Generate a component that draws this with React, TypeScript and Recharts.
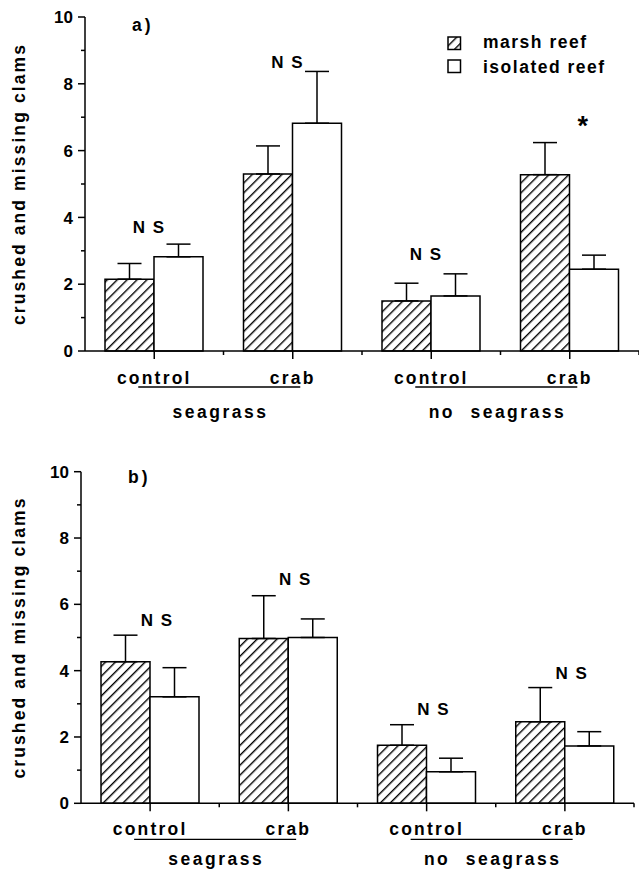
import React from 'react';
import { BarChart, Bar, XAxis, YAxis, ErrorBar, ReferenceDot } from 'recharts';

// ---------- data ----------
const treatments = ['control', 'crab', 'control', 'crab'];
const groupKeys = ['seagrass', 'seagrass', 'noseagrass', 'noseagrass'];
const groupNames = ['seagrass', 'no seagrass'];
const yTicks = [0, 1, 2, 3, 4, 5, 6, 7, 8, 9, 10];

// panel a
const marshA = [2.15, 5.3, 1.5, 5.28];
const marshErrA = [0.47, 0.84, 0.53, 0.96];
const isolatedA = [2.82, 6.82, 1.65, 2.45];
const isolatedErrA = [0.38, 1.55, 0.66, 0.42];
const sigA = ['N S', 'N S', 'N S', '*'];
const sigLevelA = [3.71, 8.65, 2.9, 6.92];

// panel b
const marshB = [4.27, 4.97, 1.75, 2.46];
const marshErrB = [0.8, 1.29, 0.62, 1.03];
const isolatedB = [3.21, 5.0, 0.95, 1.73];
const isolatedErrB = [0.88, 0.56, 0.41, 0.43];
const sigB = ['N S', 'N S', 'N S', 'N S'];
const sigLevelB = [5.53, 6.76, 2.84, 3.93];

const yLabel = 'crushed and missing clams';
const legendItems = ['marsh reef', 'isolated reef'];

const buildData = (m: number[], me: number[], iso: number[], ie: number[]) =>
  treatments.map((t, i) => ({
    key: `${groupKeys[i]}-${t}`,
    marsh: m[i],
    marshErr: [0, me[i]],
    isolated: iso[i],
    isolatedErr: [0, ie[i]],
  }));

const dataA = buildData(marshA, marshErrA, isolatedA, isolatedErrA);
const dataB = buildData(marshB, marshErrB, isolatedB, isolatedErrB);

const FONT = '"Liberation Sans", Arial, Helvetica, sans-serif';

const textStyle: React.CSSProperties = {
  fontFamily: FONT,
  fontWeight: 700,
  fill: '#000',
};

type Cfg = {
  height: number;
  top: number;
  right: number;
  yw: number;
  xh: number;
  labelDy: number;
  lineDy: number;
  groupDy: number;
  sigDx: number;
  starDx: number;
};

const makeXTick = (cfg: Cfg) => (props: any) => {
  const { x, y, payload, index } = props;
  const off = payload && payload.offset ? payload.offset : 69;
  return (
    <g>
      <line x1={x} y1={y} x2={x} y2={y + 8} stroke="#000" strokeWidth={1.5} />
      <line x1={x + off} y1={y} x2={x + off} y2={y + 4} stroke="#000" strokeWidth={1.5} />
      <text
        x={x}
        y={y + cfg.labelDy}
        dy="0.36em"
        textAnchor="middle"
        style={{ ...textStyle, fontSize: 17.5, letterSpacing: 2.2 }}
      >
        {treatments[index]}
      </text>
      {index % 2 === 0 && (
        <g>
          <line x1={x - 16} y1={y + cfg.lineDy} x2={x + 146} y2={y + cfg.lineDy} stroke="#000" strokeWidth={1.3} />
          <text
            x={x + off - 3}
            y={y + cfg.groupDy}
            dy="0.36em"
            textAnchor="middle"
            style={{ ...textStyle, fontSize: 17.5, letterSpacing: 2.5, wordSpacing: 8 }}
          >
            {groupNames[index / 2]}
          </text>
        </g>
      )}
    </g>
  );
};

const YTick = (props: any) => {
  const { x, y, payload } = props;
  const v = payload.value;
  const major = v % 2 === 0;
  return (
    <g>
      <line x1={x - (major ? 7 : 4)} y1={y} x2={x} y2={y} stroke="#000" strokeWidth={1.5} />
      {major && (
        <text x={x - 12} y={y} dy="0.36em" textAnchor="end" style={{ ...textStyle, fontSize: 17 }}>
          {v}
        </text>
      )}
    </g>
  );
};

const YLabelContent = (props: any) => {
  const vb = props.viewBox || {};
  const cx = (vb.x || 0) + 19;
  const cy = (vb.y || 0) + (vb.height || 0) / 2;
  return (
    <text
      x={cx}
      y={cy}
      transform={`rotate(-90 ${cx} ${cy})`}
      textAnchor="middle"
      dominantBaseline="central"
      style={{ ...textStyle, fontSize: 17.5, letterSpacing: 2.1 }}
    >
      {yLabel}
    </text>
  );
};

function Panel({ data, sig, sigLevel, cfg }: { data: any[]; sig: string[]; sigLevel: number[]; cfg: Cfg }) {
  return (
    <BarChart
      width={639}
      height={cfg.height}
      data={data}
      margin={{ top: cfg.top, right: cfg.right, left: 0, bottom: 0 }}
      barGap={0}
      barSize={49}
    >
      <XAxis
        dataKey="key"
        height={cfg.xh}
        interval={0}
        axisLine={{ stroke: '#000', strokeWidth: 1.5 }}
        tickLine={false}
        tickSize={0}
        tickMargin={0}
        tick={makeXTick(cfg)}
      />
      <YAxis
        width={cfg.yw}
        type="number"
        domain={[0, 10]}
        ticks={yTicks}
        interval={0}
        axisLine={{ stroke: '#000', strokeWidth: 1.5 }}
        tickLine={false}
        tickSize={0}
        tickMargin={0}
        tick={YTick}
        label={{ content: YLabelContent } as any}
      />
      <Bar dataKey="marsh" fill="url(#hatch)" stroke="#000" strokeWidth={1.5} isAnimationActive={false}>
        <ErrorBar dataKey="marshErr" width={12} stroke="#000" strokeWidth={1.5} direction="y" />
      </Bar>
      <Bar dataKey="isolated" fill="#fff" stroke="#000" strokeWidth={1.5} isAnimationActive={false}>
        <ErrorBar dataKey="isolatedErr" width={12} stroke="#000" strokeWidth={1.5} direction="y" />
      </Bar>
      {data.map((d, i) => (
        <ReferenceDot
          key={`sig-${i}`}
          x={d.key}
          y={sigLevel[i]}
          r={0}
          ifOverflow="visible"
          shape={(p: any) =>
            sig[i] === '*' ? (
              <text
                x={p.cx + cfg.starDx}
                y={p.cy}
                dy="0.57em"
                textAnchor="middle"
                style={{ ...textStyle, fontSize: 27 }}
              >
                {sig[i]}
              </text>
            ) : (
              <text
                x={p.cx + cfg.sigDx}
                y={p.cy}
                dy="0.36em"
                textAnchor="middle"
                style={{ ...textStyle, fontSize: 17, letterSpacing: 1.5 }}
              >
                {sig[i]}
              </text>
            )
          }
        />
      ))}
    </BarChart>
  );
}

const cfgA: Cfg = {
  height: 430,
  top: 17,
  right: 0,
  yw: 85,
  xh: 79,
  labelDy: 27,
  lineDy: 36,
  groupDy: 61,
  sigDx: -5,
  starDx: 13,
};

const cfgB: Cfg = {
  height: 441,
  top: 41.7,
  right: 5,
  yw: 81,
  xh: 67.7,
  labelDy: 25,
  lineDy: 36,
  groupDy: 55,
  sigDx: 7,
  starDx: 13,
};

const htmlText: React.CSSProperties = {
  position: 'absolute',
  fontFamily: FONT,
  fontWeight: 700,
  fontSize: 17.5,
  lineHeight: '20px',
  color: '#000',
  whiteSpace: 'nowrap',
};

export default function App() {
  return (
    <div style={{ position: 'absolute', left: 0, top: 0, width: 639, height: 871, background: '#fff', overflow: 'hidden' }}>
      <svg width={0} height={0} style={{ position: 'absolute' }}>
        <defs>
          <pattern id="hatch" patternUnits="userSpaceOnUse" width={7} height={7} patternTransform="rotate(45)">
            <line x1={0.7} y1={0} x2={0.7} y2={7} stroke="#000" strokeWidth={1.4} />
          </pattern>
        </defs>
      </svg>
      <div style={{ position: 'absolute', left: 0, top: 0 }}>
        <Panel data={dataA} sig={sigA} sigLevel={sigLevelA} cfg={cfgA} />
      </div>
      <div style={{ position: 'absolute', left: 0, top: 430 }}>
        <Panel data={dataB} sig={sigB} sigLevel={sigLevelB} cfg={cfgB} />
      </div>
      <div style={{ ...htmlText, left: 132, top: 15, letterSpacing: 3 }}>a)</div>
      <div style={{ ...htmlText, left: 128, top: 467, letterSpacing: 3 }}>b)</div>
      {legendItems.map((name, i) => (
        <div key={name}>
          <svg
            width={15}
            height={15}
            style={{ position: 'absolute', left: 447, top: i === 0 ? 36 : 59 }}
          >
            <rect
              x={1}
              y={1}
              width={12.5}
              height={12.5}
              fill={i === 0 ? 'url(#hatch)' : '#fff'}
              stroke="#000"
              strokeWidth={1.5}
            />
          </svg>
          <div style={{ ...htmlText, left: 483, top: i === 0 ? 32 : 57, letterSpacing: 1.5 }}>{name}</div>
        </div>
      ))}
    </div>
  );
}
